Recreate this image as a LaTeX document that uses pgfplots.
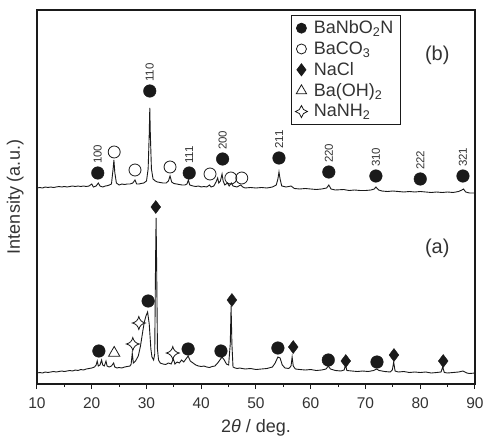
\documentclass[border=0pt]{standalone}
\usepackage{pgfplots}
\pgfplotsset{compat=1.18}
\usepackage{fontspec}
\setmainfont{Liberation Sans}
\definecolor{txt}{HTML}{333333}
\definecolor{ln}{HTML}{1A1A1A}
\pgfdeclareplotmark{star4}{%
 \pgfpathmoveto{\pgfpoint{0pt}{\pgfplotmarksize}}%
 \pgfpathquadraticcurveto{\pgfpoint{0.18\pgfplotmarksize}{0.18\pgfplotmarksize}}{\pgfpoint{\pgfplotmarksize}{0pt}}%
 \pgfpathquadraticcurveto{\pgfpoint{0.18\pgfplotmarksize}{-0.18\pgfplotmarksize}}{\pgfpoint{0pt}{-\pgfplotmarksize}}%
 \pgfpathquadraticcurveto{\pgfpoint{-0.18\pgfplotmarksize}{-0.18\pgfplotmarksize}}{\pgfpoint{-\pgfplotmarksize}{0pt}}%
 \pgfpathquadraticcurveto{\pgfpoint{-0.18\pgfplotmarksize}{0.18\pgfplotmarksize}}{\pgfpoint{0pt}{\pgfplotmarksize}}%
 \pgfpathclose
 \pgfusepathqfillstroke}
\begin{document}
\begin{tikzpicture}
\begin{axis}[
 scale only axis, width=438pt, height=374pt,
 xmin=10, xmax=90, ymin=0, ymax=374,
 xtick={10,20,...,90}, minor x tick num=1,
 ytick=\empty, xtick pos=bottom, tick align=outside,
 major tick length=5pt, minor tick length=3pt,
 every tick/.style={ln, line width=1pt},
 axis line style={ln, line width=1.2pt},
 /pgf/number format/assume math mode=true,
 tick label style={font=\fontsize{15.5}{17}\selectfont, text=txt},
 xticklabel style={yshift=-5pt},
 xlabel={2\textit{θ} / deg.},
 xlabel style={at={(axis description cs:0.5,-0.118)}, anchor=center, font=\fontsize{18}{20}\selectfont, text=txt},
 ylabel={Intensity (a.u.)},
 ylabel style={at={(axis description cs:-0.05,0.5)}, anchor=center, font=\fontsize{18}{20}\selectfont, text=txt},
 legend style={at={(axis cs:56.4,369)}, anchor=north west, draw=ln, line width=0.8pt,
   font=\fontsize{18}{20}\selectfont, text=txt, row sep=1.5pt, inner xsep=4pt, inner ysep=3pt,
   nodes={inner sep=2.5pt}},
 legend cell align=left,
 clip=false,
]
% trace (a)
\addplot[ln, line width=0.9pt, forget plot] coordinates {
(10,11)(10.5,11.5)(11,11)(11.5,12)(12,11.5)(12.5,12)(13,12.5)(13.5,12)(14,12.5)(14.5,13)
(15,12.5)(15.5,13)(16,13.5)(16.5,13)(17,14)(17.5,13.5)(18,14.5)(18.5,14)(19,15)(19.5,15.5)
(20,16)(20.5,17)(20.8,19)(21.0,23)(21.2,18)(21.5,19)(21.8,24)(22.0,19)(22.3,18)(22.6,23)
(22.8,18)(23.2,17)(23.6,18)(24.0,21)(24.2,17)(24.6,16)(25,16.5)(25.5,16)(26,17)(26.5,17.5)
(27.0,18)(27.2,20)(27.4,31)(27.6,21)(28.0,23)(28.5,28)(28.9,38)(29.3,52)(29.6,62)(29.9,68)
(30.2,72)(30.5,60)(30.8,35)(31.0,27)(31.3,24)(31.5,30)(31.65,120)(31.75,166)(31.85,120)(32.0,35)
(32.2,24)(32.5,21)(33,20)(33.5,19.5)(34,21)(34.5,20)(34.9,25)(35.2,20)(35.6,22)(36,21)
(36.4,24)(36.8,22)(37.2,25)(37.6,28)(38.0,23)(38.5,21)(39,19)(39.5,18)(40,17.5)(40.5,18)
(41,17)(41.5,16.5)(42,17.5)(42.5,18)(43.0,21)(43.4,24)(43.8,27)(44.2,24)(44.6,20)(45.0,19)
(45.3,40)(45.45,78)(45.6,40)(45.8,17)(46.2,16)(46.6,15.5)(47,16)(48,15)(49,15.5)(50,14.5)
(51,15)(52,15.5)(53,17)(53.5,21)(54.0,27)(54.4,26)(54.8,19)(55.3,16)(56,15.5)(56.4,18)
(56.6,27)(56.8,18)(57.2,15)(58,14.5)(59,14)(60,14.5)(61,13.5)(62,14)(62.8,15)(63.2,18)
(63.6,15)(64.5,13.5)(65.5,13)(66.1,14)(66.35,19)(66.6,13.5)(67.5,13)(68.5,12.5)(69.5,13)(70.5,12.5)
(71.5,13.5)(72.0,15)(72.5,13.5)(73.5,12.5)(74.5,12)(74.9,14)(75.15,22)(75.4,13)(76,12)(77,12.5)
(78,11.5)(79,12)(80,11.5)(81,12)(82,11)(83,11.5)(83.8,12)(84.1,17)(84.4,11.5)(85,11)
(86,11.5)(87,12)(87.8,13)(88.5,11)(89,10.5)(90,11)};
% trace (b)
\addplot[ln, line width=0.9pt, forget plot] coordinates {
(10,196)(10.5,196.5)(11,196)(11.5,197)(12,196.5)(12.5,197)(13,196.5)(13.5,197)(14,197.5)(14.5,197)
(15,197.5)(15.5,197)(16,197.5)(16.5,198)(17,197.5)(17.5,198)(18,197.5)(18.5,198)(19,197.5)(19.5,198)
(20.0,200)(20.3,197)(20.8,198)(21.2,201)(21.5,198)(22,197)(22.5,198)(23,198.5)(23.6,200)(23.9,215)
(24.05,224)(24.2,212)(24.5,201)(25,199)(25.5,200)(26,199.5)(26.5,200)(27,200)(27.5,201)(27.9,204)
(28.2,200)(28.6,200)(29,200.5)(29.5,201)(30.0,203)(30.3,215)(30.5,250)(30.6,276)(30.7,250)(30.9,215)
(31.2,205)(31.6,203)(32,202)(32.5,201.5)(33,201)(33.6,201)(34.0,203)(34.3,208)(34.6,202)(35,200.5)
(35.5,200)(36,199.5)(36.5,199)(37.0,199)(37.4,200)(37.65,204)(37.9,199)(38.5,198)(39,197.5)(39.5,198)
(40,197)(40.5,197.5)(41,197)(41.5,199)(41.8,197)(42.3,198)(42.7,202)(43.0,206)(43.2,201)(43.5,203)
(43.8,210)(44.0,203)(44.3,199)(44.8,201)(45.1,198)(45.5,201)(45.8,198)(46.5,197)(47.2,199)(47.6,197)
(48,196)(49,196.5)(50,196)(51,196.5)(52,196)(53,197)(53.7,199)(54.0,205)(54.2,212)(54.4,205)
(54.7,198)(55.5,197)(56.4,198)(57,195.5)(58,195)(59,195.5)(60,195)(61,194.5)(62,195)(62.9,196)
(63.3,199)(63.7,195)(64.5,194)(66,194.5)(67,193.5)(68,194)(69,193.5)(70,193.5)(71,194)(71.6,195)
(71.9,197)(72.4,194)(73,193)(74,192.5)(75,193)(76,192.5)(77,192)(78,192.5)(79,192)(80,192.5)
(81,192)(82,191.5)(83,192)(84,191.5)(85,192)(86,191.5)(87,192.5)(87.6,194)(87.9,195)(88.3,192)
(89,191)(90,191)};
% markers
\addplot[only marks, mark=*, mark size=6.3pt, ln, mark options={fill=ln}, legend image post style={mark size=5pt}] coordinates {
(21.3,33)(30.3,83)(37.6,35)(43.6,33)(54.0,36)(63.2,24)(72.1,22)
(21.1,211)(30.6,293)(37.8,211)(43.9,225)(54.2,226)(63.3,212)(71.9,208)(80.0,205)(87.8,208)};
\addlegendentry{\hspace{4pt}BaNbO\textsubscript{2}N}
\addplot[only marks, mark=o, mark size=6pt, ln, line width=0.8pt, mark options={fill=white}, legend image post style={mark size=5pt}] coordinates {
(24.1,232)(27.9,214)(34.3,217)(41.6,210)(45.4,206)(47.4,206)};
\addlegendentry{\hspace{4pt}BaCO\textsubscript{3}}
\addplot[only marks, mark=diamond*, mark size=6.5pt, ln, mark options={fill=ln}, legend image post style={mark size=6pt}] coordinates {
(31.7,177)(45.6,84)(56.8,37)(66.4,23)(75.2,29)(84.2,23)};
\addlegendentry{\hspace{4pt}NaCl}
\addplot[only marks, mark=triangle, mark size=6.5pt, ln, line width=0.8pt, legend image post style={mark size=6pt}] coordinates {(24.1,31)};
\addlegendentry{\hspace{4pt}Ba(OH)\textsubscript{2}}
\addplot[only marks, mark=star4, mark size=6.5pt, ln, line width=0.8pt, mark options={fill=white}, legend image post style={mark size=6pt}] coordinates {
(27.5,40)(28.6,61)(34.8,31)};
\addlegendentry{\hspace{4pt}NaNH\textsubscript{2}}
% hkl labels
\addplot[draw=none, mark=none, forget plot, nodes near coords, point meta=explicit symbolic,
 every node near coord/.append style={rotate=90, anchor=west, inner sep=0pt, text=txt,
 font=\fontsize{11.5}{12}\selectfont}] table[x=x, y=y, meta=lab] {
x y lab
21.1 220 100
30.6 302 110
37.8 220 111
43.9 234 200
54.2 235 211
63.3 221 220
71.9 217 310
80.0 214 222
87.8 217 321
};
\node[text=txt, font=\fontsize{20}{22}\selectfont] at (axis cs:83.1,329) {(b)};
\node[text=txt, font=\fontsize{20}{22}\selectfont] at (axis cs:83.1,136) {(a)};
\end{axis}
\path ([shift={(-37pt,-57pt)}]current axis.south west) rectangle ([shift={(13pt,10pt)}]current axis.north east);
\end{tikzpicture}
\end{document}
